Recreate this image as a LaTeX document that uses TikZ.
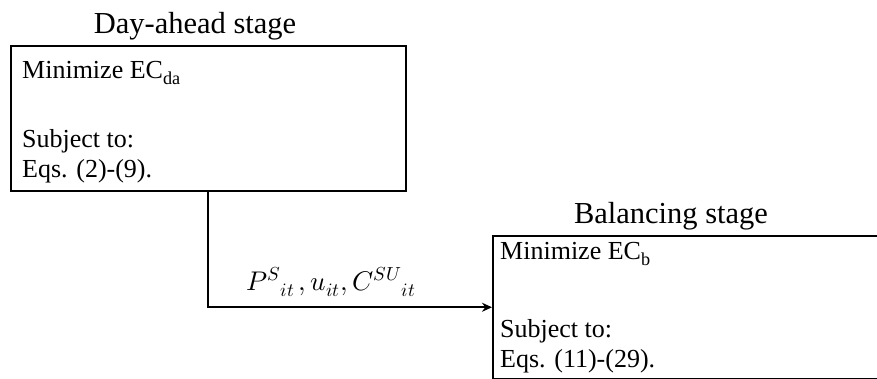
\documentclass[tikz,border=0pt]{standalone}
\usepackage{unicode-math}
\setmainfont{Liberation Serif}
\setmathfont{Latin Modern Math}
\usetikzlibrary{arrows.meta}
\begin{document}
\begin{tikzpicture}[x=1pt,y=-1pt,
  stagebox/.style={draw=black, line width=1.5pt, inner sep=0pt, anchor=north west},
  bodytext/.style={anchor=base west, inner sep=0pt, font=\fontsize{26}{30}\selectfont},
  titletext/.style={anchor=base, inner sep=0pt, font=\fontsize{30.5}{34}\selectfont},
  flow/.style={line width=2pt, -{Stealth[length=10pt,width=9pt]}},
  lbl/.style={anchor=base west, inner sep=0pt, font=\fontsize{27}{30}\selectfont}]
\useasboundingbox (0,0) rectangle (877,378);
\clip (0,0) rectangle (877,378);
% Day-ahead stage
\node[titletext] (t1) at (195,33) {Day-ahead stage};
\node[stagebox, minimum width=395pt, minimum height=145pt] (da) at (10,45) {};
\node[bodytext] (da1) at (22,78) {Minimize EC\textsubscript{da}};
\node[bodytext] (da2) at (22,147) {Subject to:};
\node[bodytext] (da3) at (22,177) {Eqs. (2)-(9).};
% Balancing stage
\node[titletext] (t2) at (671,223) {Balancing stage};
\node[stagebox, minimum width=400pt, minimum height=143pt] (bal) at (492,235) {};
\node[bodytext] (b1) at (500,259) {Minimize EC\textsubscript{b}};
\node[bodytext] (b2) at (500,337) {Subject to:};
\node[bodytext] (b3) at (500,367) {Eqs. (11)-(29).};
% connector
\draw[flow] (da.south) |- (bal.west);
\node[lbl] (lab) at (246,290) {$P^{S}{}_{it}\,,u_{it},C^{SU}{}_{it}$};
\end{tikzpicture}
\end{document}
